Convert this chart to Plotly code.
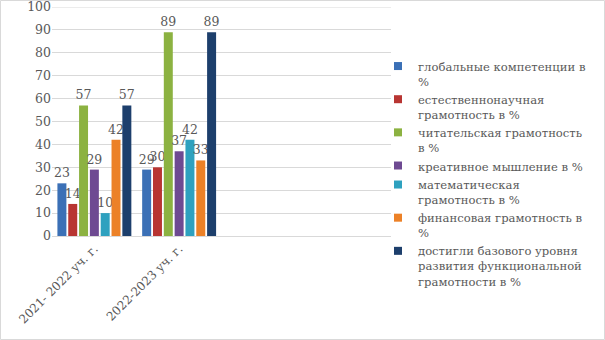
import plotly.graph_objects as go

categories = ["2021- 2022 уч. г.", "2022-2023 уч. г."]
series_names = [
    "глобальные компетенции в<br>%",
    "естественнонаучная<br>грамотность в %",
    "читательская грамотность<br>в %",
    "креативное мышление в %",
    "математическая<br>грамотность в %",
    "финансовая грамотность в<br>%",
    "достигли базового уровня<br>развития функциональной<br>грамотности в %",
]
global_comp = [23, 29]
science = [14, 30]
reading = [57, 89]
creative = [29, 37]
math = [10, 42]
finance = [42, 33]
basic = [57, 89]
series_values = [global_comp, science, reading, creative, math, finance, basic]
colors = ["#3b70b6", "#b83532", "#8cb241", "#6e4a92", "#2ea1bf", "#ec8127", "#1d3f6c"]
y_ticks = [0, 10, 20, 30, 40, 50, 60, 70, 80, 90, 100]

FONT = "DejaVu Serif"
GREY = "#595959"

fig = go.Figure()
xpos = list(range(len(categories)))
for name, vals, col in zip(series_names, series_values, colors):
    fig.add_trace(go.Bar(
        x=xpos, y=vals, name=name, showlegend=False,
        marker=dict(color=col, line=dict(width=0)),
        text=[str(v) for v in vals], textposition="outside",
        textfont=dict(family=FONT, size=12.5, color=GREY),
        constraintext="none", cliponaxis=False,
    ))
# legend entries with small square keys
for name, col in zip(series_names, colors):
    fig.add_trace(go.Scatter(
        x=[None], y=[None], mode="markers", name=name,
        marker=dict(symbol="square", size=8, color=col, line=dict(width=0)),
        showlegend=True,
    ))

L, R, T, B = 52, 214, 7, 104
W, H = 605, 340
pw, ph = W - L - R, H - T - B

fig.update_layout(
    width=W, height=H,
    margin=dict(l=L, r=R, t=T, b=B, autoexpand=False),
    paper_bgcolor="white", plot_bgcolor="white",
    barmode="group", bargap=0.106, bargroupgap=0.17,
    font=dict(family=FONT, size=12, color=GREY),
    showlegend=True,
    legend=dict(
        x=(378 - L) / pw, y=1 - (52 - T) / ph, xanchor="left", yanchor="top",
        font=dict(family=FONT, size=11.6, color=GREY),
        itemwidth=30, tracegroupgap=0, bgcolor="rgba(0,0,0,0)",
        valign="top", maxheight=400,
    ),
    xaxis=dict(
        range=[-0.5, 3.5], tickvals=xpos, ticktext=categories, tickangle=-45,
        showgrid=False, showline=True, linecolor="#d9d9d9", linewidth=1,
        ticks="", tickfont=dict(family=FONT, size=12, color=GREY), zeroline=False,
        ticklabeloverflow="allow", automargin=False,
    ),
    yaxis=dict(
        range=[0, 100], tickmode="array", tickvals=y_ticks,
        showgrid=True, gridcolor="#d9d9d9", gridwidth=1,
        zeroline=False, showline=False, ticks="", ticklen=0,
        tickfont=dict(family=FONT, size=12.5, color=GREY),
        ticklabeloverflow="allow", automargin=False,
    ),
)

fig.add_shape(
    type="rect", xref="paper", yref="paper",
    x0=-(L - 0.5) / pw, x1=1 + (R - 0.5) / pw,
    y0=-(B - 0.5) / ph, y1=1 + (T - 0.5) / ph,
    line=dict(color="#d9d9d9", width=1), fillcolor="rgba(0,0,0,0)", layer="below",
)
# top gridline at 100 (plotly drops the grid line on the plot edge)
fig.add_hline(y=100, line=dict(color="#d9d9d9", width=1), layer="below")

fig.write_html("out.html")
